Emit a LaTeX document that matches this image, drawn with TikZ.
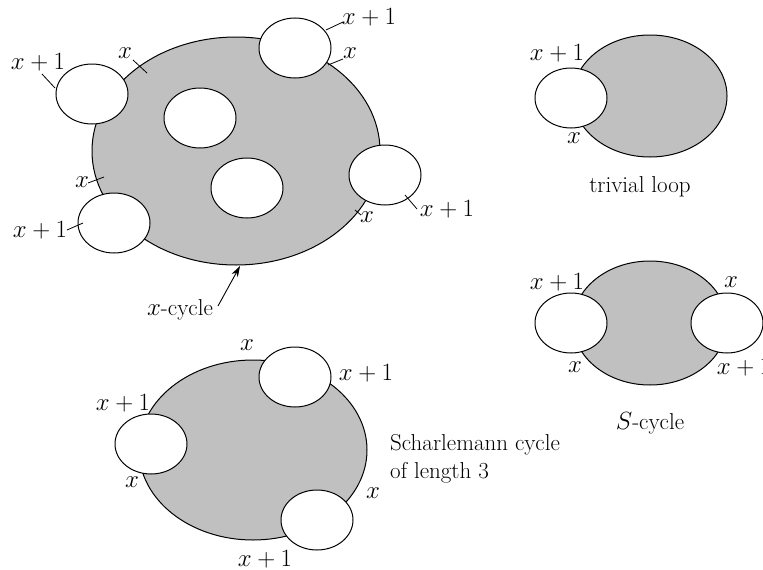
\documentclass[tikz,border=0pt]{standalone}
\usetikzlibrary{shapes.geometric,arrows.meta}
\definecolor{fillgray}{RGB}{192,192,192}
\begin{document}
\begin{tikzpicture}[x=1pt,y=-1pt,
  every node/.style={font=\fontsize{23}{28}\selectfont, inner sep=0pt},
  graydisc/.style={ellipse, draw=black, fill=fillgray, line width=1pt, inner sep=0pt},
  hole/.style={ellipse, draw=black, fill=white, line width=1pt, minimum width=72pt, minimum height=60pt, inner sep=0pt},
  tick/.style={line width=0.8pt}]
\useasboundingbox (0,0) rectangle (763,570);
\clip (0,0) rectangle (763,570);

% ---------- big figure (x-cycle) ----------
\node[graydisc, minimum width=288pt, minimum height=228pt] (big) at (236,151) {};
\node[hole] (b1) at (92,94) {};
\node[hole] (b2) at (295,48) {};
\node[hole] (b3) at (200,118) {};
\node[hole] (b4) at (247,188) {};
\node[hole] (b5) at (385,175) {};
\node[hole] (b6) at (114,223) {};

\node (l1) at (38,62) {$x+1$};
\coordinate (t1a) at (42,74); \coordinate (t1b) at (55,88);
\draw[tick] (t1a) -- (t1b);
\node (l2) at (125,53) {$x$};
\coordinate (t2a) at (133,60); \coordinate (t2b) at (147,73);
\draw[tick] (t2a) -- (t2b);
\node (l3) at (369,17) {$x+1$};
\coordinate (t3a) at (326,30); \coordinate (t3b) at (343,22);
\draw[tick] (t3a) -- (t3b);
\node (l4) at (350,53) {$x$};
\coordinate (t4a) at (328,65); \coordinate (t4b) at (343,59);
\draw[tick] (t4a) -- (t4b);
\node (l5) at (82,182) {$x$};
\coordinate (t5a) at (88,183); \coordinate (t5b) at (104,177);
\draw[tick] (t5a) -- (t5b);
\node (l6) at (40,230) {$x+1$};
\coordinate (t6a) at (67,230); \coordinate (t6b) at (83,223);
\draw[tick] (t6a) -- (t6b);
\node (l7) at (367,217) {$x$};
\coordinate (t7a) at (355,210); \coordinate (t7b) at (361,215);
\draw[tick] (t7a) -- (t7b);
\node (l8) at (447,209) {$x+1$};
\coordinate (t8a) at (405,195); \coordinate (t8b) at (417,209);
\draw[tick] (t8a) -- (t8b);

\node (xcyc) at (180,310) {$x$-cycle};
\coordinate (xctail) at (218,306);
\coordinate (xchead) at (240,266);
\draw[line width=0.9pt, -{Stealth[length=11pt,width=7pt]}] (xctail) -- (xchead);

% ---------- trivial loop ----------
\node[graydisc, minimum width=154pt, minimum height=122pt] (tl) at (650,96) {};
\node[hole] (tlh) at (571,98) {};
\node (tl1) at (557,53) {$x+1$};
\node (tl2) at (574,138) {$x$};
\node (tlcap) at (640,187) {trivial loop};

% ---------- S-cycle ----------
\node[graydisc, minimum width=154pt, minimum height=124pt] (sc) at (650,323) {};
\node[hole] (scl) at (571,323) {};
\node[hole] (scr) at (727,323) {};
\node (sc1) at (557,282) {$x+1$};
\node (sc2) at (731,282) {$x$};
\node (sc3) at (575,367) {$x$};
\node (sc4) at (744,367) {$x+1$};
\node (sccap) at (650,423) {$S$-cycle};

% ---------- Scharlemann cycle ----------
\node[graydisc, minimum width=228pt, minimum height=180pt] (sh) at (253,450) {};
\node[hole] (sht) at (295,377) {};
\node[hole] (shl) at (151,444) {};
\node[hole] (shb) at (317,520) {};
\node (sh1) at (247,345) {$x$};
\node (sh2) at (366,373) {$x+1$};
\node (sh3) at (123,403) {$x+1$};
\node (sh4) at (132,482) {$x$};
\node (sh5) at (373,493) {$x$};
\node (sh6) at (265,559) {$x+1$};
\node[anchor=base west] (shcap1) at (390,450) {Scharlemann cycle};
\node[anchor=base west] (shcap2) at (390,478) {of length 3};
\end{tikzpicture}
\end{document}
